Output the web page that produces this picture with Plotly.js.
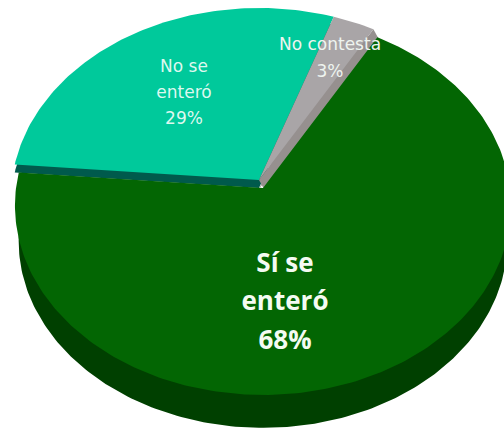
<!DOCTYPE html>
<html>
<head>
<meta charset="utf-8">
<script src="https://cdn.plot.ly/plotly-3.0.1.min.js"></script>
<style>html,body{margin:0;padding:0;background:#fff}#chart{width:504px;height:429px}</style>
</head>
<body>
<div id="chart"></div>
<script>
// Data
const categories = ["Sí se enteró", "No se enteró", "No contesta"];
const values = [68, 29, 3];
const labelLines = [["Sí se", "enteró"], ["No se", "enteró"], ["No contesta"]];

// Styles
const topColors = ["#036603", "#00C99B", "#A9A5A7"];
const sideColors = ["#004000", "#005A4C", "#96908F"];
const fontSizes = [26, 17, 17];
const fontFamilies = ["'Open Sans', sans-serif", "'DejaVu Sans', sans-serif", "'DejaVu Sans', sans-serif"];
const fontWeights = [700, 400, 400];
const textColors = ["#F4FBF2", "#DDF8EF", "#EEF4EF"];
const labelCentres = [[285, 265], [184, 68], [330, 46]];
const lineSteps = [38.5, 26, 27];

// Perspective disc: a circle tilted away from the viewer
const rimX = 247, rimY = 187.9, persp = 0.092, apex = [259, 180];
const sliceShift = [[4, 8], [0, 0], [0, 0]];   // the big slice is pulled out of the pie
// side walls: slice index, offset, scale
const walls = [[0, [4, 44], 0.985], [1, [0, 8], 1], [2, [0, 9], 1]];
const cutFaceOffset = [5, 9];                  // cut face of the small slice, exposed by the pulled-out slice
const startAngle = 60;                         // degrees, where the big slice starts

function project(thetaDeg, off, k) {
  const t = thetaDeg * Math.PI / 180, s = Math.sin(t), c = Math.cos(t), w = 1 + persp * s;
  return [apex[0] + off[0] + k * rimX * c / w, apex[1] + off[1] - k * rimY * s / w];
}
function slicePoly(a0, a1, off, k) {
  const xs = [apex[0] + off[0]], ys = [apex[1] + off[1]];
  const n = Math.max(2, Math.ceil(Math.abs(a1 - a0)));
  for (let i = 0; i <= n; i++) {
    const p = project(a0 + (a1 - a0) * i / n, off, k);
    xs.push(p[0]); ys.push(p[1]);
  }
  xs.push(xs[0]); ys.push(ys[0]);
  return {x: xs, y: ys};
}
function cutFace(angle, off) {
  const a = project(angle, [0, 0], 1), b = project(angle, off, 1);
  return {
    x: [apex[0], a[0], b[0], apex[0] + off[0], apex[0]],
    y: [apex[1], a[1], b[1], apex[1] + off[1], apex[1]]
  };
}

const total = values.reduce((a, b) => a + b, 0);
// Angular span of each slice, going clockwise from startAngle (big slice first)
const spans = [];
let cursor = startAngle;
values.forEach(v => {
  const next = cursor - v / total * 360;
  spans.push([cursor, next]);
  cursor = next;
});

function fillTrace(poly, color) {
  return {x: poly.x, y: poly.y, mode: "lines", fill: "toself", fillcolor: color,
          line: {width: 0, color: color}, hoverinfo: "skip", showlegend: false, type: "scatter"};
}

const traces = [];
walls.forEach(w => {
  const i = w[0];
  traces.push(fillTrace(slicePoly(spans[i][0], spans[i][1], w[1], w[2]), sideColors[i]));
});
traces.push(fillTrace(cutFace(startAngle, cutFaceOffset), sideColors[2]));
// top faces: small slices first, the pulled-out slice on top
[1, 2, 0].forEach(i => {
  traces.push(fillTrace(slicePoly(spans[i][0], spans[i][1], sliceShift[i], 1), topColors[i]));
});
// labels, one text point per line
categories.forEach((c, i) => {
  const lines = labelLines[i].concat([values[i] + "%"]);
  traces.push({
    type: "scatter", mode: "text", showlegend: false, hoverinfo: "skip",
    x: lines.map(() => labelCentres[i][0]),
    y: lines.map((_, k) => labelCentres[i][1] + k * lineSteps[i]),
    text: lines, textposition: "middle center",
    textfont: {size: fontSizes[i], family: fontFamilies[i], color: textColors[i], weight: fontWeights[i]}
  });
});

const layout = {
  width: 504, height: 429,
  margin: {l: 0, r: 0, t: 0, b: 0},
  paper_bgcolor: "#fff", plot_bgcolor: "#fff",
  showlegend: false, hovermode: false,
  xaxis: {range: [0, 504], visible: false, fixedrange: true},
  yaxis: {range: [429, 0], visible: false, fixedrange: true}
};
Plotly.newPlot("chart", traces, layout, {displayModeBar: false, staticPlot: true});
</script>
</body>
</html>
